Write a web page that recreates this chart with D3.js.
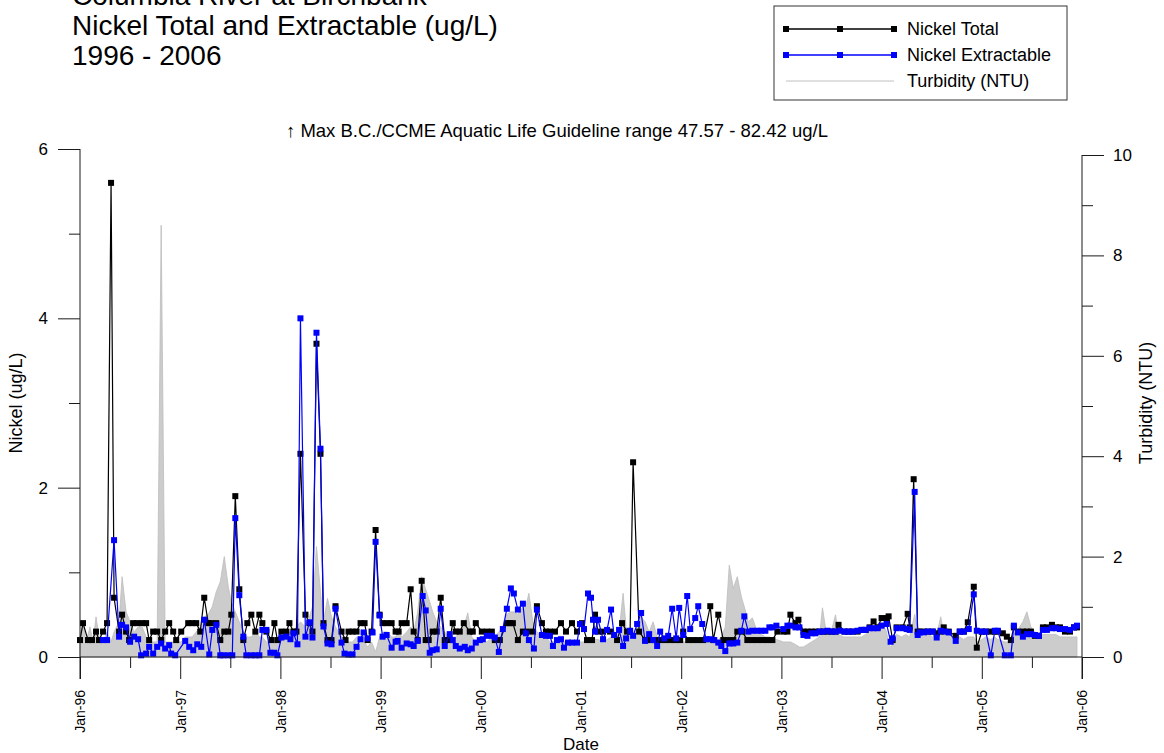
<!DOCTYPE html>
<html><head><meta charset="utf-8">
<script src="https://cdn.jsdelivr.net/npm/d3@7"></script>
<style>body{margin:0;background:#fff}svg{display:block}text{font-family:"Liberation Sans",Arial,sans-serif;fill:#000}</style>
</head><body><svg id="c" width="1164" height="753"></svg>
<script>
const titleLines = ["Columbia River at Birchbank", "Nickel Total and Extractable (ug/L)", "1996 - 2006"];
const legendLabels = ["Nickel Total", "Nickel Extractable", "Turbidity (NTU)"];
const annotationText = "\u2191 Max B.C./CCME Aquatic Life Guideline range 47.57 - 82.42 ug/L";
const xTickYears = [1996,1997,1998,1999,2000,2001,2002,2003,2004,2005,2006];
const xTickLabels = ["Jan-96","Jan-97","Jan-98","Jan-99","Jan-00","Jan-01","Jan-02","Jan-03","Jan-04","Jan-05","Jan-06"];
const xMinorYears = [1996.5,1997.5,1998.5,1999.5,2000.5,2001.5,2002.5,2003.5,2004.5,2005.5];
const leftMajor = [0,2,4,6], leftMinor = [1,3,5];
const rightMajor = [0,2,4,6,8,10], rightMinor = [1,3,5,7,9];

// [decimal year, ug/L]
const nickelTotal = [
[1996.00,0.2],[1996.03,0.4],[1996.08,0.2],[1996.12,0.2],[1996.16,0.3],[1996.19,0.2],[1996.23,0.3],[1996.27,0.4],[1996.31,5.6],[1996.34,0.7],
[1996.39,0.3],[1996.42,0.5],[1996.46,0.3],[1996.49,0.2],[1996.53,0.4],[1996.57,0.4],[1996.62,0.4],[1996.66,0.4],[1996.69,0.2],[1996.73,0.3],
[1996.77,0.3],[1996.81,0.2],[1996.85,0.3],[1996.89,0.4],[1996.93,0.3],[1996.96,0.2],[1997.01,0.3],[1997.08,0.4],[1997.12,0.4],[1997.16,0.4],
[1997.20,0.3],[1997.24,0.7],[1997.28,0.4],[1997.31,0.4],[1997.36,0.4],[1997.40,0.2],[1997.44,0.3],[1997.48,0.3],[1997.51,0.5],[1997.55,1.9],
[1997.59,0.8],[1997.63,0.2],[1997.67,0.4],[1997.71,0.5],[1997.75,0.3],[1997.79,0.5],[1997.82,0.4],[1997.86,0.3],[1997.91,0.2],[1997.94,0.4],
[1997.97,0.2],[1998.01,0.3],[1998.06,0.3],[1998.09,0.4],[1998.13,0.3],[1998.16,0.3],[1998.20,2.4],[1998.25,0.5],[1998.29,0.4],[1998.32,0.3],
[1998.36,3.7],[1998.40,2.4],[1998.43,0.4],[1998.47,0.2],[1998.51,0.2],[1998.55,0.6],[1998.61,0.3],[1998.65,0.2],[1998.68,0.3],[1998.72,0.3],
[1998.76,0.3],[1998.80,0.4],[1998.84,0.4],[1998.87,0.2],[1998.91,0.3],[1998.95,1.5],[1998.99,0.5],[1999.02,0.4],[1999.06,0.4],[1999.11,0.4],
[1999.15,0.3],[1999.18,0.3],[1999.21,0.4],[1999.26,0.4],[1999.30,0.8],[1999.33,0.3],[1999.37,0.2],[1999.41,0.9],[1999.45,0.2],[1999.48,0.2],
[1999.52,0.3],[1999.56,0.3],[1999.60,0.7],[1999.64,0.2],[1999.69,0.2],[1999.72,0.4],[1999.75,0.3],[1999.79,0.3],[1999.83,0.4],[1999.89,0.3],
[1999.92,0.3],[1999.95,0.4],[2000.01,0.3],[2000.06,0.3],[2000.11,0.3],[2000.14,0.2],[2000.19,0.2],[2000.26,0.4],[2000.29,0.4],[2000.32,0.4],
[2000.37,0.2],[2000.42,0.3],[2000.46,0.3],[2000.52,0.3],[2000.56,0.6],[2000.61,0.4],[2000.65,0.3],[2000.69,0.3],[2000.74,0.3],[2000.80,0.4],
[2000.85,0.3],[2000.91,0.4],[2000.96,0.3],[2001.01,0.4],[2001.06,0.2],[2001.11,0.2],[2001.14,0.5],[2001.17,0.3],[2001.22,0.3],[2001.29,0.3],
[2001.36,0.2],[2001.41,0.4],[2001.46,0.3],[2001.49,0.3],[2001.52,2.3],[2001.58,0.3],[2001.64,0.2],[2001.69,0.2],[2001.74,0.2],[2001.79,0.2],
[2001.84,0.2],[2001.89,0.2],[2001.94,0.2],[2001.99,0.2],[2002.02,0.3],[2002.07,0.2],[2002.12,0.2],[2002.17,0.2],[2002.22,0.2],[2002.29,0.6],
[2002.32,0.2],[2002.37,0.5],[2002.42,0.2],[2002.47,0.2],[2002.52,0.2],[2002.56,0.3],[2002.61,0.3],[2002.66,0.2],[2002.71,0.2],[2002.76,0.2],
[2002.81,0.2],[2002.86,0.2],[2002.91,0.2],[2002.96,0.3],[2003.02,0.3],[2003.06,0.3],[2003.09,0.5],[2003.14,0.4],[2003.17,0.44],[2003.22,0.3],
[2003.26,0.3],[2003.30,0.3],[2003.34,0.3],[2003.38,0.3],[2003.42,0.3],[2003.46,0.3],[2003.50,0.3],[2003.54,0.3],[2003.57,0.38],[2003.63,0.3],
[2003.67,0.3],[2003.71,0.3],[2003.76,0.3],[2003.80,0.32],[2003.84,0.32],[2003.88,0.35],[2003.92,0.42],[2003.96,0.35],[2004.00,0.46],[2004.05,0.46],
[2004.07,0.48],[2004.11,0.2],[2004.15,0.35],[2004.21,0.35],[2004.26,0.51],[2004.28,0.35],[2004.32,2.1],[2004.36,0.3],[2004.38,0.3],[2004.42,0.3],
[2004.46,0.3],[2004.51,0.3],[2004.55,0.28],[2004.59,0.3],[2004.62,0.35],[2004.67,0.3],[2004.74,0.25],[2004.78,0.3],[2004.82,0.3],[2004.86,0.41],
[2004.92,0.83],[2004.95,0.11],[2005.00,0.3],[2005.04,0.3],[2005.09,0.3],[2005.13,0.3],[2005.16,0.3],[2005.21,0.28],[2005.25,0.24],[2005.29,0.2],
[2005.32,0.35],[2005.36,0.3],[2005.41,0.3],[2005.45,0.3],[2005.49,0.3],[2005.53,0.25],[2005.57,0.25],[2005.61,0.35],[2005.65,0.35],[2005.70,0.38],
[2005.74,0.35],[2005.78,0.35],[2005.83,0.3],[2005.88,0.3],[2005.92,0.35],[2005.95,0.35]
];

// [decimal year, ug/L]
const nickelExtractable = [
[1996.23,0.2],[1996.27,0.2],[1996.34,1.38],[1996.39,0.24],[1996.42,0.38],[1996.46,0.35],[1996.50,0.18],[1996.54,0.24],[1996.58,0.21],[1996.61,0.02],
[1996.66,0.04],[1996.69,0.12],[1996.73,0.04],[1996.77,0.12],[1996.81,0.16],[1996.85,0.10],[1996.89,0.14],[1996.91,0.04],[1996.95,0.02],[1997.05,0.19],
[1997.09,0.12],[1997.13,0.08],[1997.17,0.15],[1997.21,0.12],[1997.24,0.44],[1997.29,0.03],[1997.32,0.32],[1997.36,0.38],[1997.40,0.02],[1997.43,0.02],
[1997.48,0.02],[1997.52,0.02],[1997.55,1.64],[1997.59,0.73],[1997.63,0.24],[1997.66,0.02],[1997.71,0.02],[1997.75,0.02],[1997.79,0.02],[1997.82,0.32],
[1997.86,0.32],[1997.90,0.05],[1997.94,0.05],[1997.97,0.02],[1998.01,0.23],[1998.06,0.24],[1998.10,0.21],[1998.13,0.28],[1998.17,0.15],[1998.20,4.0],
[1998.25,0.24],[1998.29,0.41],[1998.32,0.23],[1998.36,3.83],[1998.40,2.46],[1998.43,0.36],[1998.47,0.16],[1998.51,0.15],[1998.55,0.57],[1998.61,0.17],
[1998.64,0.04],[1998.68,0.03],[1998.72,0.03],[1998.76,0.12],[1998.80,0.21],[1998.83,0.29],[1998.87,0.22],[1998.92,0.29],[1998.95,1.36],[1998.99,0.49],
[1999.02,0.24],[1999.06,0.26],[1999.11,0.11],[1999.15,0.18],[1999.17,0.19],[1999.21,0.11],[1999.26,0.16],[1999.30,0.15],[1999.33,0.13],[1999.37,0.19],
[1999.42,0.72],[1999.45,0.55],[1999.49,0.05],[1999.52,0.08],[1999.56,0.09],[1999.60,0.57],[1999.64,0.13],[1999.69,0.27],[1999.72,0.2],[1999.75,0.13],
[1999.79,0.1],[1999.84,0.12],[1999.87,0.08],[1999.91,0.1],[1999.95,0.17],[1999.99,0.2],[2000.02,0.21],[2000.06,0.25],[2000.11,0.25],[2000.14,0.23],
[2000.18,0.06],[2000.22,0.33],[2000.26,0.57],[2000.30,0.81],[2000.33,0.75],[2000.37,0.56],[2000.42,0.63],[2000.45,0.28],[2000.48,0.2],[2000.53,0.1],
[2000.56,0.56],[2000.61,0.26],[2000.65,0.25],[2000.69,0.25],[2000.72,0.13],[2000.76,0.2],[2000.80,0.21],[2000.83,0.11],[2000.87,0.17],[2000.91,0.17],
[2000.96,0.17],[2000.99,0.39],[2001.03,0.33],[2001.07,0.75],[2001.10,0.70],[2001.12,0.44],[2001.14,0.30],[2001.17,0.44],[2001.22,0.21],[2001.26,0.32],
[2001.30,0.56],[2001.33,0.26],[2001.38,0.32],[2001.42,0.13],[2001.45,0.22],[2001.49,0.31],[2001.52,0.25],[2001.56,0.39],[2001.60,0.52],[2001.64,0.19],
[2001.68,0.27],[2001.72,0.2],[2001.76,0.13],[2001.79,0.30],[2001.83,0.22],[2001.87,0.25],[2001.91,0.57],[2001.95,0.22],[2001.98,0.58],[2002.02,0.26],
[2002.06,0.72],[2002.09,0.33],[2002.14,0.46],[2002.17,0.60],[2002.21,0.39],[2002.25,0.21],[2002.29,0.21],[2002.33,0.2],[2002.37,0.17],[2002.40,0.13],
[2002.44,0.07],[2002.48,0.16],[2002.52,0.16],[2002.56,0.17],[2002.60,0.31],[2002.63,0.48],[2002.67,0.30],[2002.71,0.31],[2002.76,0.31],[2002.80,0.31],
[2002.84,0.31],[2002.88,0.35],[2002.91,0.35],[2002.95,0.37],[2003.02,0.33],[2003.06,0.37],[2003.09,0.37],[2003.14,0.35],[2003.18,0.35],[2003.22,0.26],
[2003.26,0.25],[2003.30,0.28],[2003.34,0.28],[2003.38,0.30],[2003.42,0.30],[2003.46,0.31],[2003.50,0.30],[2003.54,0.30],[2003.58,0.31],[2003.63,0.30],
[2003.67,0.30],[2003.71,0.30],[2003.76,0.31],[2003.80,0.32],[2003.84,0.32],[2003.88,0.34],[2003.92,0.34],[2003.96,0.34],[2004.00,0.37],[2004.05,0.39],
[2004.09,0.18],[2004.11,0.22],[2004.15,0.34],[2004.21,0.34],[2004.25,0.33],[2004.28,0.32],[2004.33,1.95],[2004.36,0.26],[2004.38,0.29],[2004.42,0.29],
[2004.46,0.30],[2004.51,0.30],[2004.55,0.23],[2004.59,0.31],[2004.63,0.30],[2004.67,0.29],[2004.74,0.19],[2004.78,0.30],[2004.82,0.30],[2004.87,0.33],
[2004.92,0.74],[2004.95,0.31],[2005.00,0.30],[2005.04,0.30],[2005.09,0.02],[2005.13,0.31],[2005.16,0.31],[2005.23,0.02],[2005.29,0.02],[2005.32,0.37],
[2005.36,0.29],[2005.41,0.24],[2005.45,0.27],[2005.49,0.27],[2005.53,0.26],[2005.57,0.25],[2005.61,0.32],[2005.65,0.32],[2005.70,0.34],[2005.74,0.34],
[2005.78,0.33],[2005.83,0.33],[2005.88,0.32],[2005.92,0.35],[2005.95,0.37]
];

// [decimal year, NTU]
const turbidity = [
[1996.00,0.4],[1996.03,0.7],[1996.06,0.3],[1996.10,0.6],[1996.13,0.3],[1996.16,0.8],[1996.19,0.4],[1996.23,0.3],[1996.27,0.5],[1996.31,0.3],
[1996.34,0.5],[1996.39,0.7],[1996.42,1.6],[1996.46,0.9],[1996.50,0.7],[1996.54,0.5],[1996.58,0.6],[1996.62,0.6],[1996.66,0.4],[1996.69,0.3],
[1996.73,0.3],[1996.77,0.3],[1996.81,8.6],[1996.85,0.3],[1996.89,0.3],[1996.93,0.3],[1996.96,0.3],[1997.01,0.3],[1997.05,0.4],[1997.08,0.4],
[1997.12,0.4],[1997.16,0.5],[1997.20,0.6],[1997.24,0.8],[1997.28,0.85],[1997.32,1.0],[1997.36,1.3],[1997.40,1.5],[1997.44,2.0],[1997.48,1.4],
[1997.51,1.1],[1997.55,0.9],[1997.59,0.7],[1997.63,0.5],[1997.67,0.4],[1997.71,0.4],[1997.75,0.5],[1997.79,0.4],[1997.82,0.4],[1997.86,0.3],
[1997.91,0.3],[1997.94,0.4],[1997.97,0.3],[1998.01,0.4],[1998.06,0.4],[1998.09,0.5],[1998.13,0.5],[1998.16,0.6],[1998.20,0.7],[1998.25,0.6],
[1998.29,0.8],[1998.32,1.0],[1998.36,2.2],[1998.40,1.3],[1998.43,0.7],[1998.47,1.17],[1998.51,0.8],[1998.55,0.6],[1998.61,0.4],[1998.65,0.4],
[1998.68,0.3],[1998.72,0.3],[1998.76,0.4],[1998.80,0.3],[1998.84,0.3],[1998.87,0.2],[1998.91,0.3],[1998.95,0.1],[1998.99,0.4],[1999.03,0.5],
[1999.07,0.5],[1999.11,0.4],[1999.15,0.4],[1999.18,0.5],[1999.21,0.4],[1999.26,0.5],[1999.30,0.6],[1999.33,0.5],[1999.37,0.9],[1999.41,1.6],
[1999.45,1.35],[1999.49,1.1],[1999.52,0.9],[1999.56,0.7],[1999.60,0.6],[1999.64,0.5],[1999.68,0.4],[1999.72,0.4],[1999.75,0.4],[1999.79,0.5],
[1999.83,0.6],[1999.87,0.88],[1999.91,0.4],[1999.95,0.3],[1999.99,0.3],[2000.02,0.3],[2000.06,0.3],[2000.11,0.4],[2000.14,0.4],[2000.18,0.5],
[2000.22,0.6],[2000.26,0.85],[2000.30,0.9],[2000.33,0.9],[2000.37,0.85],[2000.42,1.0],[2000.46,1.1],[2000.48,1.27],[2000.52,0.7],[2000.56,0.5],
[2000.61,0.4],[2000.65,0.4],[2000.69,0.3],[2000.72,0.3],[2000.76,0.3],[2000.80,0.3],[2000.83,0.3],[2000.87,0.3],[2000.91,0.3],[2000.96,0.3],
[2000.99,0.3],[2001.03,0.3],[2001.07,0.3],[2001.10,0.3],[2001.14,0.35],[2001.17,0.35],[2001.22,0.3],[2001.26,0.35],[2001.30,0.4],[2001.33,0.4],
[2001.38,0.5],[2001.42,1.27],[2001.45,0.6],[2001.49,0.4],[2001.52,0.4],[2001.56,0.6],[2001.60,0.8],[2001.64,0.7],[2001.68,0.5],[2001.72,0.7],
[2001.76,0.4],[2001.79,0.3],[2001.83,0.3],[2001.87,0.3],[2001.91,0.3],[2001.95,0.3],[2001.98,0.3],[2002.02,0.3],[2002.06,0.3],[2002.09,0.3],
[2002.14,0.3],[2002.17,0.3],[2002.21,0.3],[2002.25,0.35],[2002.29,0.35],[2002.33,0.3],[2002.37,0.35],[2002.40,0.4],[2002.44,0.6],[2002.48,1.83],
[2002.52,1.37],[2002.56,1.6],[2002.60,1.2],[2002.63,1.0],[2002.67,0.7],[2002.71,0.78],[2002.76,0.5],[2002.80,0.45],[2002.84,0.4],[2002.88,0.4],
[2002.91,0.35],[2002.95,0.35],[2003.02,0.3],[2003.06,0.3],[2003.09,0.3],[2003.14,0.25],[2003.18,0.2],[2003.22,0.2],[2003.26,0.25],[2003.30,0.3],
[2003.34,0.35],[2003.38,0.4],[2003.41,0.98],[2003.45,0.45],[2003.49,0.45],[2003.54,0.84],[2003.57,0.45],[2003.62,0.4],[2003.66,0.4],[2003.70,0.4],
[2003.76,0.4],[2003.80,0.4],[2003.84,0.45],[2003.88,0.5],[2003.92,0.6],[2003.96,0.65],[2004.00,0.7],[2004.05,0.5],[2004.07,0.25],[2004.09,0.2],
[2004.11,0.25],[2004.15,0.45],[2004.20,0.4],[2004.24,0.45],[2004.28,0.4],[2004.33,0.85],[2004.36,0.55],[2004.38,0.45],[2004.42,0.4],[2004.47,0.45],
[2004.51,0.4],[2004.55,0.45],[2004.59,0.8],[2004.62,0.5],[2004.67,0.45],[2004.74,0.4],[2004.78,0.4],[2004.82,0.35],[2004.86,0.4],[2004.92,0.4],
[2004.95,0.3],[2005.00,0.35],[2005.04,0.4],[2005.09,0.35],[2005.13,0.4],[2005.16,0.35],[2005.23,0.3],[2005.29,0.3],[2005.32,0.45],[2005.36,0.55],
[2005.41,0.7],[2005.45,0.9],[2005.49,0.6],[2005.53,0.5],[2005.57,0.45],[2005.61,0.45],[2005.65,0.45],[2005.70,0.45],[2005.74,0.45],[2005.78,0.4],
[2005.83,0.4],[2005.88,0.4],[2005.92,0.4],[2005.95,0.4]
];

const svg = d3.select("#c");
const x = d3.scaleLinear().domain([1996, 2006]).range([80, 1082]);
const yL = d3.scaleLinear().domain([0, 6]).range([657, 149]);
const yR = d3.scaleLinear().domain([0, 10]).range([657, 155]);
const AX = "#1a1a1a";

// Title
titleLines.forEach((s, i) => svg.append("text").attr("x", 72).attr("y", 5 + i * 30).attr("font-size", 28).text(s));

// Legend
const lg = svg.append("g");
lg.append("rect").attr("x", 774).attr("y", 6).attr("width", 293).attr("height", 94)
  .attr("fill", "#fff").attr("stroke", "#333").attr("stroke-width", 1);
const legRows = [{c:"#000", m:true}, {c:"#0000ff", m:true}, {c:"#c0c0c0", m:false}];
legRows.forEach((r, i) => {
  const yy = 29 + i * 26;
  lg.append("line").attr("x1", 786).attr("x2", 894).attr("y1", yy).attr("y2", yy)
    .attr("stroke", r.c).attr("stroke-width", r.m ? 1.3 : 1);
  if (r.m) [786, 840, 894].forEach(mx => lg.append("rect").attr("x", mx - 3).attr("y", yy - 3)
    .attr("width", 6).attr("height", 6).attr("fill", r.c));
  lg.append("text").attr("x", 907).attr("y", yy).attr("dy", "0.36em").attr("font-size", 18).text(legendLabels[i]);
});

// Annotation
svg.append("text").attr("x", 557).attr("y", 137).attr("text-anchor", "middle").attr("font-size", 18.5).text(annotationText);

// Turbidity area
svg.append("path").datum(turbidity)
  .attr("d", d3.area().x(d => x(d[0])).y0(yR(0)).y1(d => yR(d[1])))
  .attr("fill", "#cccccc").attr("stroke", "#bdbdbd").attr("stroke-width", 0.8);

// Series
function drawSeries(data, color) {
  svg.append("path").datum(data)
    .attr("d", d3.line().x(d => x(d[0])).y(d => yL(d[1])))
    .attr("fill", "none").attr("stroke", color).attr("stroke-width", 1.2);
  svg.append("g").selectAll("rect").data(data).join("rect")
    .attr("x", d => x(d[0]) - 3).attr("y", d => yL(d[1]) - 3)
    .attr("width", 6).attr("height", 6).attr("fill", color);
}
drawSeries(nickelTotal, "#000");
drawSeries(nickelExtractable, "#0000ff");

// Axes
function styleAxis(g) {
  g.select(".domain").remove();
  g.selectAll(".tick line").attr("stroke", AX);
  g.selectAll(".tick text").attr("fill", "#000").style("font-family", '"Liberation Sans",Arial,sans-serif');
}
svg.append("g").attr("transform", "translate(80,0)")
  .call(d3.axisLeft(yL).tickValues(leftMajor).tickSize(22).tickPadding(10).tickFormat(d3.format("d")))
  .attr("font-size", 17).call(styleAxis);
svg.append("g").attr("transform", "translate(80,0)")
  .call(d3.axisLeft(yL).tickValues(leftMinor).tickSize(11).tickFormat("")).call(styleAxis);
svg.append("g").attr("transform", "translate(1082,0)")
  .call(d3.axisRight(yR).tickValues(rightMajor).tickSize(22).tickPadding(9).tickFormat(d3.format("d")))
  .attr("font-size", 17).call(styleAxis);
svg.append("g").attr("transform", "translate(1082,0)")
  .call(d3.axisRight(yR).tickValues(rightMinor).tickSize(11).tickFormat("")).call(styleAxis);
const xb = svg.append("g").attr("transform", "translate(0,657)")
  .call(d3.axisBottom(x).tickValues(xTickYears).tickSize(22).tickFormat((d, i) => xTickLabels[i]))
  .attr("font-size", 14).call(styleAxis);
xb.selectAll(".tick text").attr("transform", "rotate(-90)").attr("text-anchor", "end")
  .attr("x", -33).attr("y", 0).attr("dy", "0.35em");
svg.append("g").attr("transform", "translate(0,657)")
  .call(d3.axisBottom(x).tickValues(xMinorYears).tickSize(11).tickFormat("")).call(styleAxis);

// axis lines
svg.append("line").attr("x1", x(1996)).attr("x2", x(1996)).attr("y1", yL(6)).attr("y2", 679).attr("stroke", AX);
svg.append("line").attr("x1", x(2006)).attr("x2", x(2006)).attr("y1", yR(10)).attr("y2", 679).attr("stroke", AX);
svg.append("line").attr("x1", x(1996)).attr("x2", x(2006)).attr("y1", yL(0)).attr("y2", yL(0)).attr("stroke", AX);

// Axis titles
svg.append("text").attr("transform", `translate(22,${(yL(0) + yL(6)) / 2}) rotate(-90)`)
  .attr("text-anchor", "middle").attr("font-size", 18).text("Nickel (ug/L)");
svg.append("text").attr("transform", `translate(1152,${(yR(0) + yL(6)) / 2}) rotate(-90)`)
  .attr("text-anchor", "middle").attr("font-size", 18).text("Turbidity (NTU)");
svg.append("text").attr("x", (x(1996) + x(2006)) / 2).attr("y", 750).attr("text-anchor", "middle")
  .attr("font-size", 17).text("Date");
</script></body></html>
